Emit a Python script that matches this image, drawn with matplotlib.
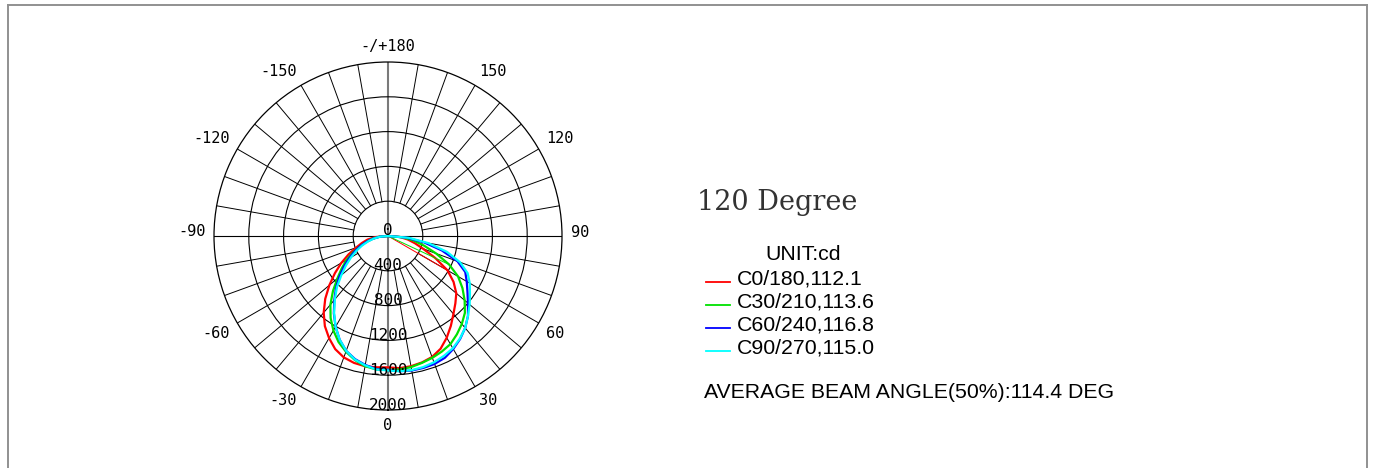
import numpy as np
import matplotlib
matplotlib.use("Agg")
import matplotlib.pyplot as plt
from matplotlib.lines import Line2D
import matplotlib.transforms as mtrans

# ---------------- data ----------------
gamma = [0, 5, 10, 15, 20, 25, 30, 35, 40, 45, 50, 55, 60, 65, 70, 75, 80, 85, 90]

# right half (C0, C30, C60, C90) and left half (C180, C210, C240, C270), cd
c0_right   = [1510, 1525, 1520, 1505, 1480, 1430, 1350, 1260, 1170, 1095, 1025, 920, 790, 600, 430, 320, 230, 140, 0]
c180_left  = [1510, 1515, 1520, 1510, 1485, 1435, 1355, 1265, 1150, 1020, 880, 745, 620, 500, 390, 310, 240, 150, 0]
c30_right  = [1540, 1540, 1530, 1510, 1490, 1465, 1435, 1380, 1320, 1250, 1150, 1045, 930, 775, 590, 430, 300, 170, 0]
c210_left  = [1540, 1540, 1520, 1475, 1415, 1345, 1255, 1150, 1030, 895, 760, 650, 550, 440, 340, 255, 180, 100, 0]
c60_right  = [1550, 1560, 1570, 1570, 1565, 1545, 1500, 1445, 1380, 1300, 1200, 1115, 1045, 980, 850, 640, 420, 210, 0]
c240_left  = [1540, 1535, 1505, 1465, 1405, 1315, 1205, 1085, 960, 845, 730, 620, 520, 425, 340, 255, 175, 95, 0]
c90_right  = [1550, 1560, 1565, 1560, 1545, 1520, 1490, 1440, 1380, 1300, 1225, 1150, 1085, 1010, 880, 700, 470, 240, 0]
c270_left  = [1545, 1540, 1510, 1470, 1405, 1315, 1205, 1080, 950, 830, 700, 590, 490, 400, 315, 235, 165, 90, 0]

series_names = ["C0/180", "C30/210", "C60/240", "C90/270"]
beam_angles = [112.1, 113.6, 116.8, 115.0]
series_colors = ["#ff0000", "#00e000", "#0000ff", "#00ffff"]
right_halves = [c0_right, c30_right, c60_right, c90_right]
left_halves = [c180_left, c210_left, c240_left, c270_left]
# thin chord from centre to a point of the right half (gamma index), per series
chord_index = [12, 13, None, None]

ring_values = [400, 800, 1200, 1600, 2000]
radial_labels = ["0", "400", "800", "1200", "1600", "2000"]
angle_ticks = [0, 30, 60, 90, 120, 150, 180, -150, -120, -90, -60, -30]
angle_labels = ["0", "30", "60", "90", "120", "150", "-/+180", "-150", "-120", "-90", "-60", "-30"]
title_text = "120 Degree"
unit_text = "UNIT:cd"
average_text = "AVERAGE BEAM ANGLE(50%):114.4 DEG"

# ---------------- figure ----------------
W, H = 1374, 468
fig = plt.figure(figsize=(W / 100, H / 100), dpi=100)
fig.patch.set_facecolor("white")

# outer frame (top, left, right)
frame_kw = dict(color="#909090", lw=1.4, transform=fig.transFigure)
xl, xr, yt = 8 / W, 1367 / W, 1 - 5 / H
fig.add_artist(Line2D([xl, xr], [yt, yt], **frame_kw))
fig.add_artist(Line2D([xl, xl], [0, yt], **frame_kw))
fig.add_artist(Line2D([xr, xr], [0, yt], **frame_kw))

cx, cy, R = 388, 236, 174
ax = fig.add_axes([(cx - R) / W, (H - cy - R) / H, 2 * R / W, 2 * R / H], projection="polar")
ax.set_theta_zero_location("S")
ax.set_theta_direction(1)
ax.set_ylim(0, ring_values[-1])
ax.set_yticks(ring_values[:-1])
ax.set_yticklabels([])
ax.set_xticks([])
ax.grid(True, axis="y", color="black", lw=0.8)
ax.spines["polar"].set_color("black")
ax.spines["polar"].set_linewidth(0.9)
ax.set_facecolor("white")

# spokes every 10 degrees from inner ring
for a in range(0, 360, 10):
    if a % 90 == 0:
        continue
    t = np.deg2rad(a)
    ax.plot([t, t], [ring_values[0], ring_values[-1]], color="black", lw=0.7, zorder=1)
# full axes lines
for a in (90, -90):
    t = np.deg2rad(a)
    ax.plot([t, t], [0, ring_values[-1]], color="black", lw=0.8, zorder=1)
for a in (0, 180):
    t = np.deg2rad(a)
    ax.plot([t, t], [0, ring_values[-1]], color="#7a7a7a", lw=1.5, zorder=1)

# curves
g = np.array(gamma, dtype=float)
for name, col, left, right, ci in zip(series_names, series_colors, left_halves, right_halves, chord_index):
    theta = np.deg2rad(np.concatenate([-g[::-1], g[1:]]))
    r = np.concatenate([np.array(left)[::-1], np.array(right)[1:]])
    ax.plot(theta, r, color=col, lw=1.6, zorder=3)
    if ci is not None:
        ax.plot([0, np.deg2rad(gamma[ci])], [0, right[ci]], color=col, lw=0.7, zorder=3)

# radial labels
off = mtrans.offset_copy(ax.transData, fig=fig, x=0, y=5, units="dots")
for v, lab in zip([0] + ring_values, radial_labels):
    ax.text(0, v, lab, transform=off, ha="center", va="center",
            family="DejaVu Sans Mono", fontsize=11.5, color="black", zorder=5)

# angle labels
for a, lab in zip(angle_ticks, angle_labels):
    if a in (0, 180):
        ha, rr, dy = "center", 2175, 0
    else:
        ha = "left" if a > 0 else "right"
        rr = 2100
        c = np.cos(np.deg2rad(a))
        dy = 4 if abs(c) < 0.1 else (-6 if c > 0 else 6)
    tr = mtrans.offset_copy(ax.transData, fig=fig, x=0, y=dy, units="dots")
    ax.text(np.deg2rad(a), rr, lab, transform=tr, ha=ha, va="center",
            family="DejaVu Sans Mono", fontsize=11, color="black")

# right side texts
fs = 15.3
fig.text(697 / W, 1 - 203 / H, title_text, family="DejaVu Serif", fontsize=19.5,
         color="#333333", ha="left", va="center")
fig.text(803 / W, 1 - 254 / H, unit_text, family="Liberation Sans", fontsize=fs,
         color="black", ha="center", va="center")
row_y = [279, 302, 325, 348]
for name, ba, col, y in zip(series_names, beam_angles, series_colors, row_y):
    fig.add_artist(Line2D([706 / W, 730 / W], [1 - (y + 3) / H] * 2, color=col, lw=1.3,
                          transform=fig.transFigure))
    fig.text(737 / W, 1 - y / H, f"{name},{ba:.1f}", family="Liberation Sans", fontsize=fs,
             color="black", ha="left", va="center")
fig.text(704 / W, 1 - 393 / H, average_text, family="Liberation Sans", fontsize=fs,
         color="black", ha="left", va="center")

fig.savefig("out.png", dpi=100, facecolor="white")
